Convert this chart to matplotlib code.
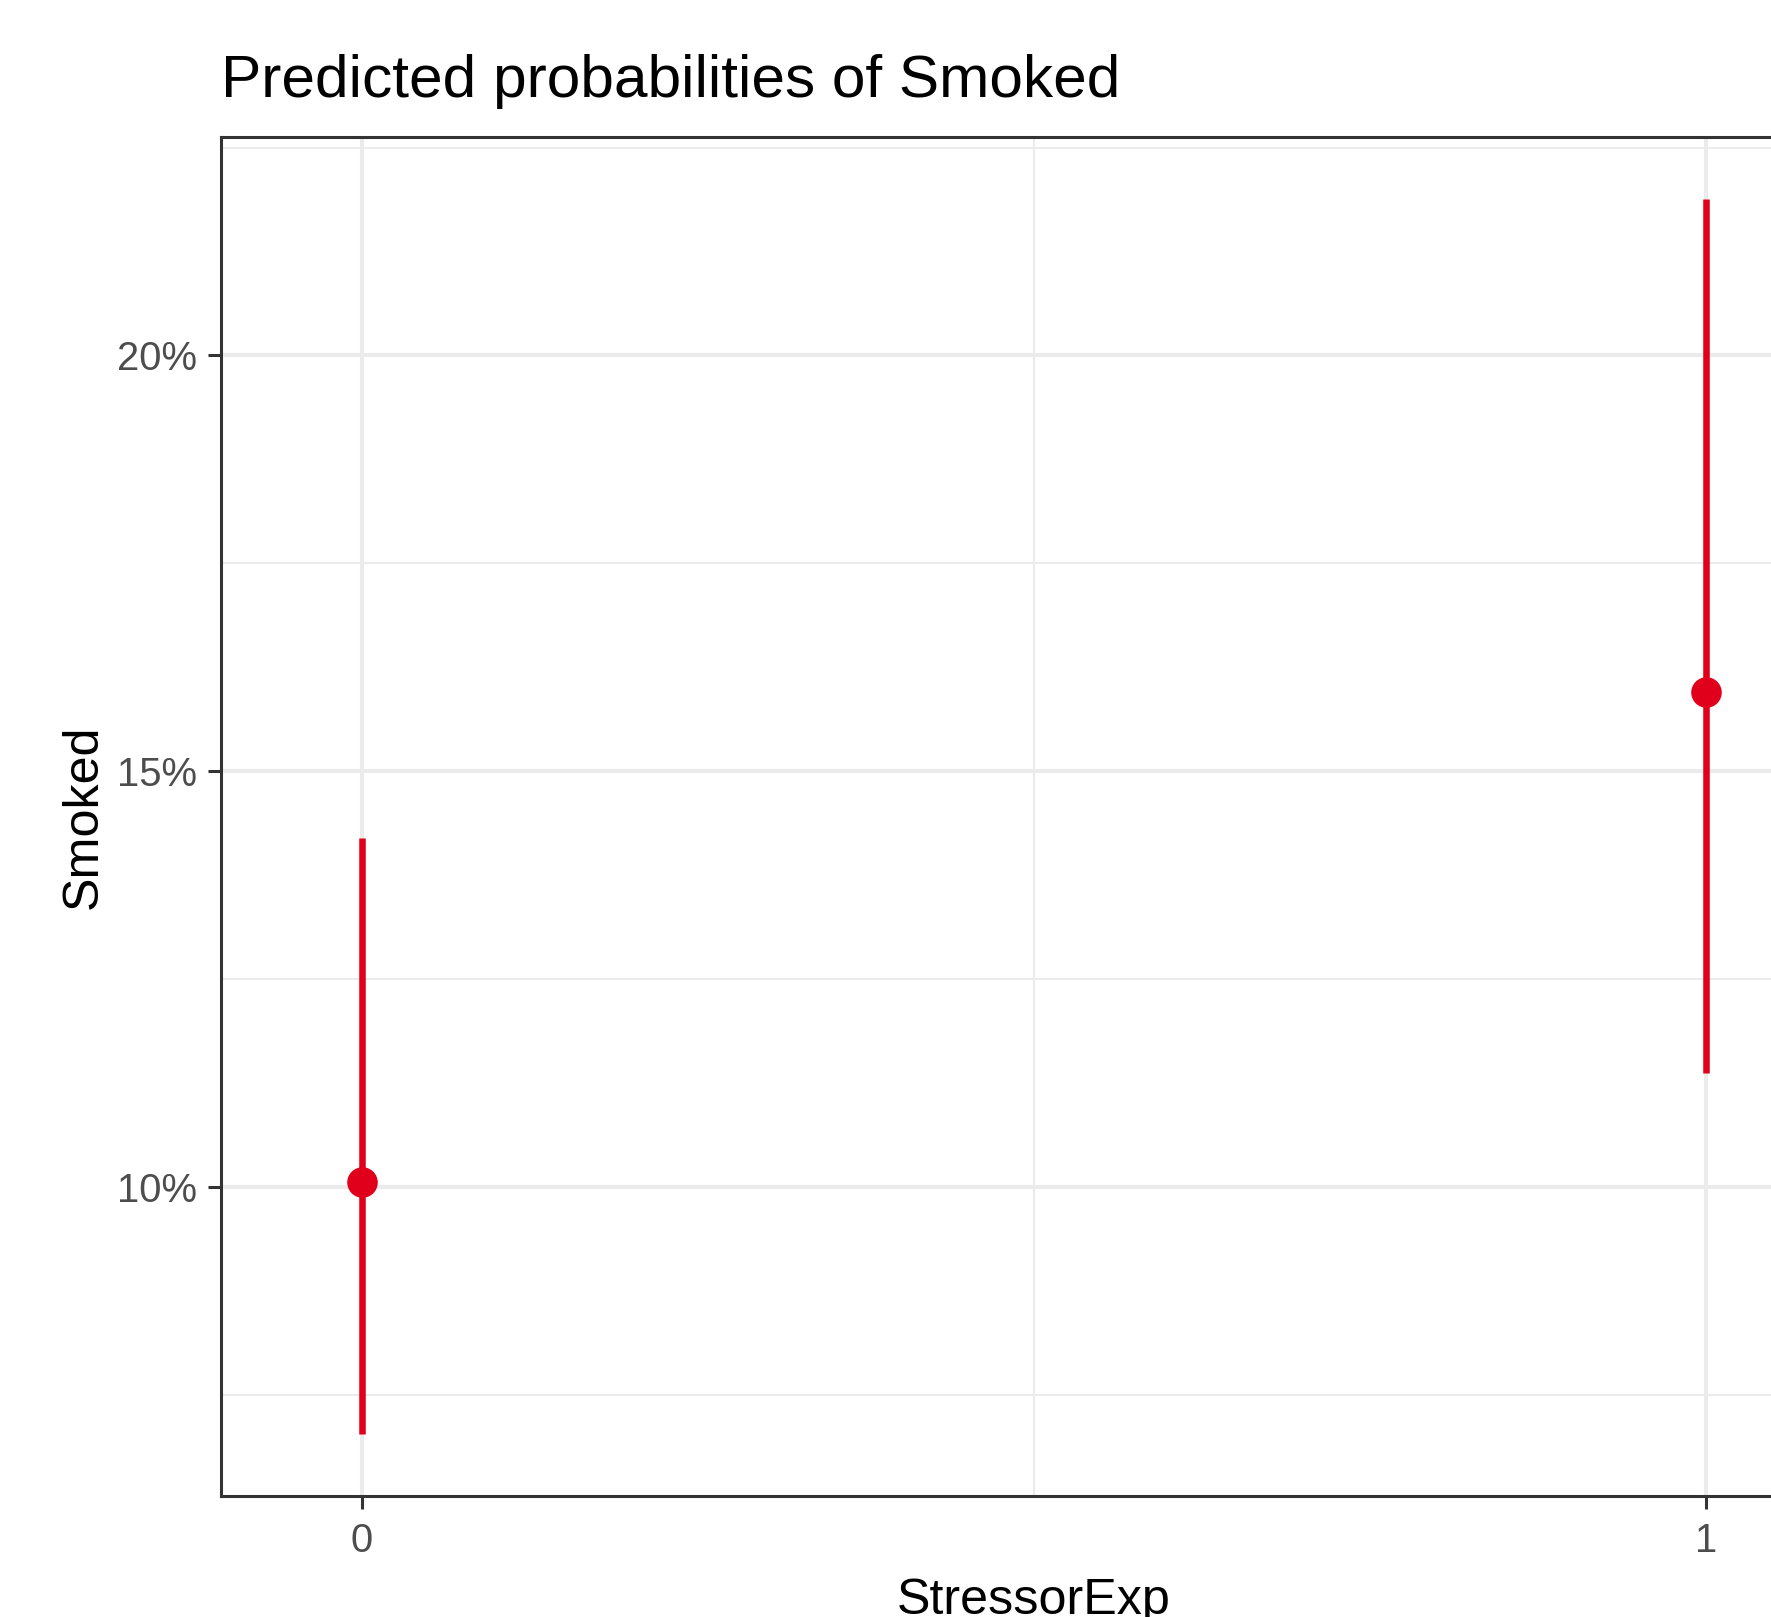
import matplotlib
matplotlib.use("Agg")
import matplotlib.pyplot as plt
from matplotlib.ticker import PercentFormatter, FixedLocator

# data
stressor = [0, 1]
predicted = [0.1006, 0.1595]
ci_low = [0.0704, 0.1138]
ci_high = [0.1420, 0.2188]
x_labels = ["0", "1"]

red = "#E0001B"
plt.rcParams["font.family"] = ["Liberation Sans", "DejaVu Sans"]

fig = plt.figure(figsize=(17.71, 16.17), dpi=100)
W, H = 1771, 1617
# panel in pixels: left 221, top 137, bottom 1496, right beyond the image
left, top, bottom, right = 221, 136.7, 1496, 1846.7
ax = fig.add_axes([left / W, 1 - bottom / H, (right - left) / W, (bottom - top) / H])

# grid (ggplot theme_bw style)
ax.set_axisbelow(True)
ax.xaxis.set_major_locator(FixedLocator([0, 1]))
ax.xaxis.set_minor_locator(FixedLocator([0.5]))
ax.yaxis.set_major_locator(FixedLocator([0.10, 0.15, 0.20]))
ax.yaxis.set_minor_locator(FixedLocator([0.075, 0.125, 0.175, 0.225]))
ax.grid(which="major", color="#EBEBEB", linewidth=2.9)
ax.grid(which="minor", color="#EBEBEB", linewidth=1.5)

# error bars and points
for x, lo, hi in zip(stressor, ci_low, ci_high):
    ax.plot([x, x], [lo, hi], color=red, linewidth=4.7, solid_capstyle="butt", zorder=3)
ax.plot(stressor, predicted, "o", color=red, markersize=22, markeredgewidth=0, zorder=4)

ax.set_xlim(-0.1047, 1.1047)
ax.set_ylim(0.0629, 0.2263)
ax.yaxis.set_major_formatter(PercentFormatter(xmax=1, decimals=0))
ax.set_xticklabels(x_labels)

ax.tick_params(which="major", length=9.4, width=2.2, color="#333333",
               labelsize=28.8, labelcolor="#4D4D4D")
ax.tick_params(axis="y", which="major", pad=8)
ax.tick_params(axis="x", which="major", pad=9)
ax.tick_params(which="minor", length=0)

for s in ax.spines.values():
    s.set_color("#333333")
    s.set_linewidth(2.2)

ax.set_xlabel("StressorExp", fontsize=36.2, color="black")
ax.xaxis.label.set_va("baseline")
ax.xaxis.set_label_coords(0.5, -(1614.4 - bottom) / (bottom - top))

ax.set_ylabel("Smoked", fontsize=36.2, color="black")
ax.yaxis.label.set_rotation_mode("anchor")
ax.yaxis.label.set_va("baseline")
ax.yaxis.set_label_coords(-(left - 97) / (right - left), 0.5)

fig.text(221 / W, 1 - 96.7 / H, "Predicted probabilities of Smoked",
         fontsize=43.5, color="black", ha="left", va="baseline")

fig.savefig("out.png", dpi=100)
